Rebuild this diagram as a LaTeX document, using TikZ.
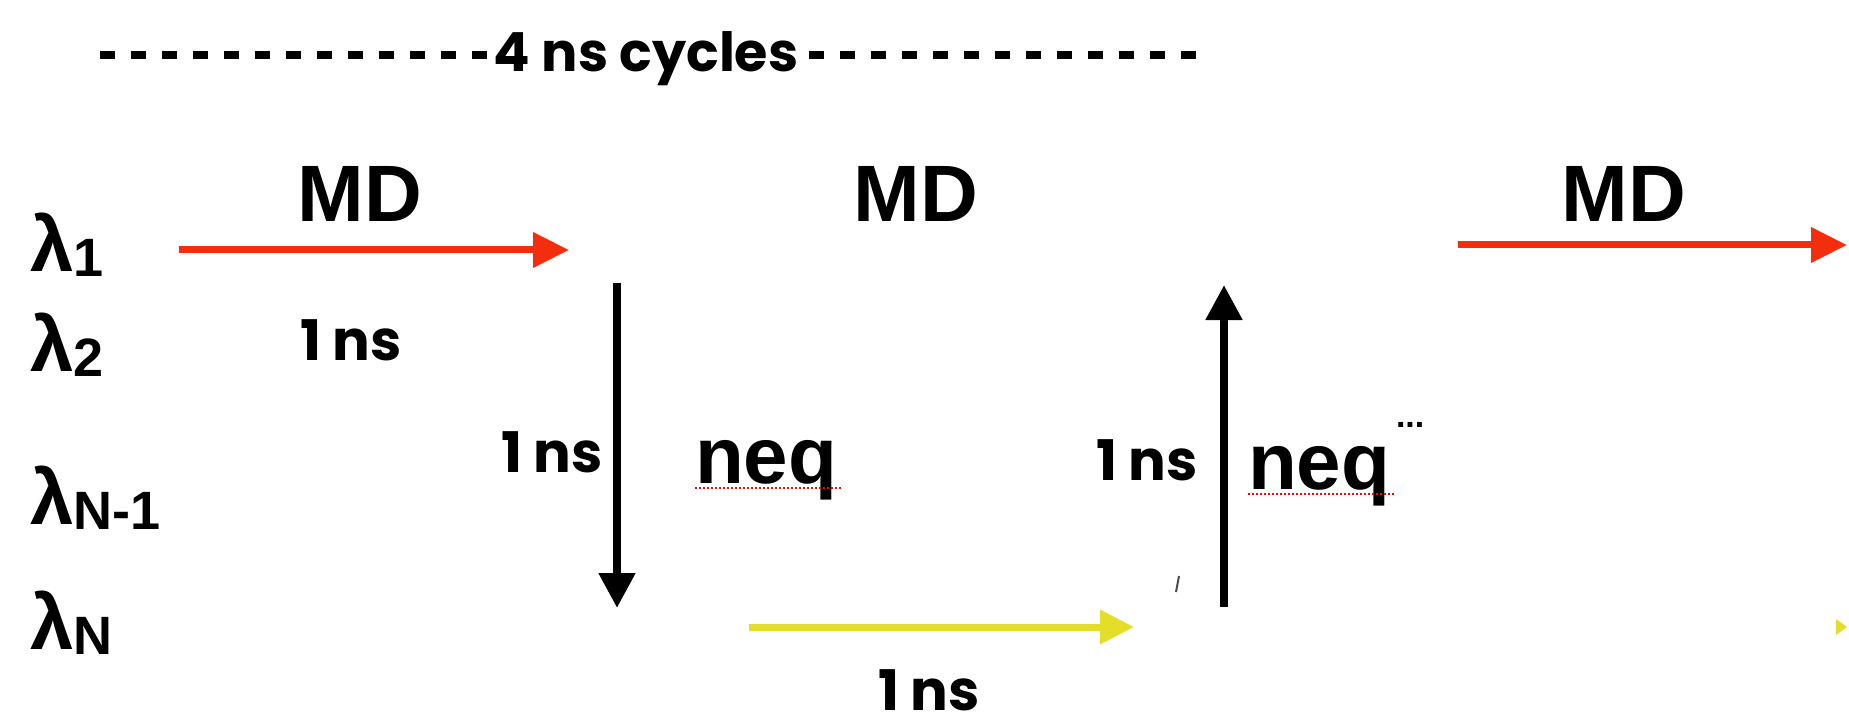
\documentclass[tikz,border=0pt]{standalone}
\usepackage{fontspec}
\setmainfont{Liberation Sans}
\newfontfamily\futura{Poppins}
\usetikzlibrary{arrows.meta}
\definecolor{mdred}{RGB}{244,46,12}
\definecolor{neqyellow}{RGB}{228,222,42}
\newcommand{\lamlab}[1]{{\fontsize{78}{78}\selectfont\bfseries λ}\raisebox{-5pt}{\fontsize{54}{54}\selectfont\bfseries #1}}
\begin{document}
\begin{tikzpicture}[x=1pt,y=-1pt,
  lbl/.style={inner sep=0pt, outer sep=0pt},
  lamtext/.style={lbl, anchor=base west},
  mdtext/.style={lbl, anchor=base, font=\fontsize{80}{80}\selectfont\bfseries},
  neqtext/.style={lbl, anchor=base west, font=\fontsize{80}{80}\selectfont\bfseries},
  nstext/.style={lbl, font=\fontsize{56}{56}\selectfont\futura\bfseries},
  cyctext/.style={lbl, anchor=base, font=\fontsize{54}{54}\selectfont\futura\bfseries},
  dashline/.style={line width=8pt, dash pattern=on 15pt off 16pt},
  redarrow/.style={draw=mdred, line width=7pt, -{Triangle[length=36pt,width=34pt]}},
  yelarrow/.style={draw=neqyellow, line width=7pt, -{Triangle[length=34pt,width=33pt]}},
  blkarrow/.style={draw=black, line width=8pt, -{Triangle[length=35pt,width=35pt]}},
  uline/.style={draw=red, line width=2pt, dash pattern=on 2pt off 2pt}
]
\useasboundingbox[fill=white] (0,0) rectangle (1849,727);

% top header
\node[cyctext] (cyc) at (646,72) {4 ns cycles};
\coordinate (dl1) at (100,55); \coordinate (dl2) at (487,55);
\coordinate (dr1) at (809,55); \coordinate (dr2) at (1196,55);
\draw[dashline] (dl1) -- (dl2);
\draw[dashline] (dr1) -- (dr2);

% lambda labels
\node[lamtext] (l1) at (30,272) {\lamlab{1}};
\node[lamtext] (l2) at (30,371) {\lamlab{2}};
\node[lamtext] (l3) at (30,524) {\lamlab{N-1}};
\node[lamtext] (l4) at (30,649) {\lamlab{N}};

% MD labels
\node[mdtext] (md1) at (360,222) {MD};
\node[mdtext] (md2) at (916,222) {MD};
\node[mdtext] (md3) at (1624,222) {MD};

% neq labels
\node[neqtext] (neq1) at (695,483) {neq};
\node[neqtext] (neq2) at (1248,489) {neq};
\node[lbl, anchor=base west, font=\fontsize{34}{34}\selectfont\bfseries] (dots) at (1396,427) {...};
\draw[uline] ([yshift=-5pt]neq1.base west) -- ([yshift=-5pt,xshift=4pt]neq1.base east);
\draw[uline] ([yshift=-5pt]neq2.base west) -- ([yshift=-5pt,xshift=4pt]neq2.base east);

% 1 ns labels
\node[nstext, anchor=base] (t1) at (351,360) {1 ns};
\node[nstext, anchor=base east] (t2) at (603,472) {1 ns};
\node[nstext, anchor=base east] (t3) at (1198,480) {1 ns};
\node[nstext, anchor=base] (t4) at (929,710) {1 ns};

% arrows
\coordinate (r1s) at (179,250); \coordinate (r1e) at (569,250);
\coordinate (r3s) at (1458,245); \coordinate (r3e) at (1847,245);
\coordinate (ys) at (749,627); \coordinate (ye) at (1134,627);
\coordinate (ds) at (617,283); \coordinate (de) at (617,608);
\coordinate (us) at (1224,607); \coordinate (ue) at (1224,285);
\draw[redarrow] (r1s) -- (r1e);
\draw[redarrow] (r3s) -- (r3e);
\draw[yelarrow] (ys) -- (ye);
\draw[blkarrow] (ds) -- (de);
\draw[blkarrow] (us) -- (ue);

% small remnants
\fill[neqyellow] (1836,619) -- (1847,627) -- (1836,635) -- cycle;
\draw[line width=2pt, black!70] (1179,576) -- (1176,592);
\end{tikzpicture}
\end{document}
